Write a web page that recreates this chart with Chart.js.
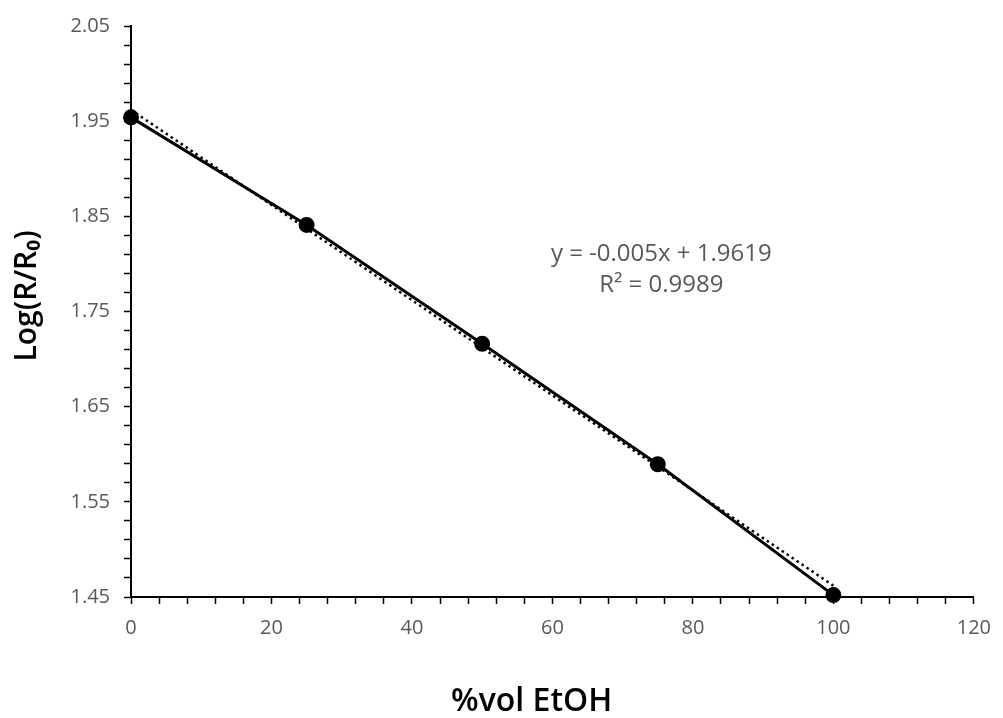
<!DOCTYPE html>
<html>
<head>
<meta charset="utf-8">
<script src="https://cdn.jsdelivr.net/npm/chart.js@4.4.1/dist/chart.umd.min.js"></script>
<style>
  html,body{margin:0;padding:0;background:#fff}
  #wrap{width:1003px;height:718px}
</style>
</head>
<body>
<div id="wrap"><canvas id="chart"></canvas></div>
<script>
// measured points
const xValues = [0, 25, 50, 75, 100];
const yValues = [1.954, 1.841, 1.716, 1.5895, 1.452];
// linear trendline as printed on the chart (y = -0.005x + 1.9619)
const trendX = [0, 100];
const trendY = [1.9619, 1.4619];
const eqLines = ["y = -0.005x + 1.9619", "R² = 0.9989"];
const eqAnchor = [75.5, 1.81];
// labelled ticks
const xTickLabels = [0, 20, 40, 60, 80, 100, 120];
const yTickLabels = [1.45, 1.55, 1.65, 1.75, 1.85, 1.95, 2.05];

const FONT = '"Open Sans", "Noto Sans", sans-serif';
const GREY = "#595959";

const toPts = (xs, ys) => xs.map((x, i) => ({ x, y: ys[i] }));

const equationLabel = {
  id: "equationLabel",
  afterDatasetsDraw(chart) {
    const { ctx, scales } = chart;
    const px = scales.x.getPixelForValue(eqAnchor[0]);
    const py = scales.y.getPixelForValue(eqAnchor[1]);
    ctx.save();
    ctx.font = "24px " + FONT;
    ctx.fillStyle = GREY;
    ctx.textAlign = "center";
    ctx.textBaseline = "middle";
    eqLines.forEach((t, i) => ctx.fillText(t, px, py + i * 31));
    ctx.restore();
  }
};

const axisCommon = {
  grid: { display: true, drawOnChartArea: false, drawTicks: true, tickLength: 7, tickColor: "#000", tickWidth: 1.5 },
  border: { display: true, color: "#000", width: 2 }
};

new Chart(document.getElementById("chart").getContext("2d"), {
  type: "scatter",
  data: {
    datasets: [
      { label: "trend", data: toPts(trendX, trendY), showLine: true, borderColor: "#000", borderWidth: 2.5,
        borderDash: [2.5, 3.5], pointRadius: 0, order: 0, clip: false },
      { label: "data", data: toPts(xValues, yValues), showLine: true, borderColor: "#000", borderWidth: 3,
        pointRadius: 6.5, pointBackgroundColor: "#000", pointBorderColor: "#000", order: 1, clip: false }
    ]
  },
  options: {
    responsive: true,
    maintainAspectRatio: false,
    animation: false,
    layout: { padding: { top: 26, right: 22, left: 0, bottom: 0 } },
    plugins: { legend: { display: false }, tooltip: { enabled: false } },
    scales: {
      x: {
        ...axisCommon,
        type: "linear", min: 0, max: 120,
        afterFit: s => { s.height = 121; },
        ticks: {
          stepSize: 4, autoSkip: false, maxRotation: 0, padding: 12, color: GREY,
          font: { family: FONT, size: 20 },
          callback: v => xTickLabels.includes(v) ? String(v) : ""
        },
        // trailing spaces nudge the title left, as in the original
        title: { display: true, text: "%vol EtOH     ", color: "#000", padding: { top: 0, bottom: 0 },
                 font: { family: FONT, size: 32, weight: "600", lineHeight: 1 } }
      },
      y: {
        ...axisCommon,
        type: "linear", min: 1.45, max: 2.05,
        afterFit: s => { s.width = 131; },
        ticks: {
          stepSize: 0.02, autoSkip: false, padding: 14, color: GREY,
          font: { family: FONT, size: 20 },
          callback: v => {
            const hit = yTickLabels.find(t => Math.abs(t - v) < 1e-6);
            return hit === undefined ? "" : hit.toFixed(2);
          }
        },
        title: { display: true, text: "    Log(R/R₀)", color: "#000", padding: { top: 12, bottom: 0 },
                 font: { family: FONT, size: 30, weight: "600", lineHeight: 1 } }
      }
    }
  },
  plugins: [equationLabel]
});
</script>
</body>
</html>
